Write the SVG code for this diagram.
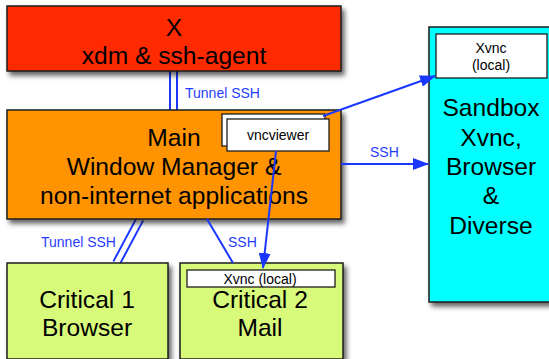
<svg xmlns="http://www.w3.org/2000/svg" width="549" height="359" viewBox="0 0 549 359">
  <style>
    .box { stroke: #1e1e1e; stroke-width: 1.5; filter: url(#shadow); }
    .panel { fill: #ffffff; stroke: #1e1e1e; stroke-width: 1.3; }
    .big { font-family: "Liberation Sans", Arial, sans-serif; font-size: 24.6px; fill: #000; text-anchor: middle; }
    .small { font-family: "Liberation Sans", Arial, sans-serif; font-size: 14px; fill: #000; text-anchor: middle; }
    .label { font-family: "Liberation Sans", Arial, sans-serif; font-size: 14px; fill: #1f3dff; }
    .wire { stroke: #1a37ff; stroke-width: 2; fill: none; }
    .tube-outer { stroke: #1a37ff; stroke-width: 9; fill: none; }
    .tube-inner { stroke: #ffffff; stroke-width: 5; fill: none; }
  </style>
  <defs>
    <filter id="shadow" x="-10%" y="-10%" width="130%" height="130%">
      <feDropShadow dx="3" dy="4" stdDeviation="2.5" flood-color="#000" flood-opacity="0.6"/>
    </filter>
    <marker id="arrow" viewBox="0 0 16 12" refX="15" refY="6" markerWidth="16" markerHeight="12" markerUnits="userSpaceOnUse" orient="auto">
      <path d="M0,0 L16,6 L0,12 Z" fill="#1a37ff"/>
    </marker>
  </defs>

  <rect width="549" height="359" fill="#ffffff"/>

  <!-- double-walled tunnels, drawn beneath the boxes -->
  <g id="connectors">
    <line class="tube-outer" x1="173.5" y1="71" x2="173.5" y2="110"/>
    <line class="tube-inner" x1="173.5" y1="71" x2="173.5" y2="110"/>
    <line class="tube-outer" x1="140" y1="219" x2="116.5" y2="263"/>
    <line class="tube-inner" x1="140" y1="219" x2="116.5" y2="263"/>
  </g>

  <g id="node-x">
    <rect class="box" x="7" y="6" width="334" height="65" fill="#ff2a00"/>
    <text class="big" x="174" y="36">X</text>
    <text class="big" x="174" y="64">xdm &amp; ssh-agent</text>
  </g>

  <g id="node-main">
    <rect class="box" x="7" y="110" width="334" height="109" fill="#ff9400"/>
    <text class="big" x="174" y="146">Main</text>
    <text class="big" x="174" y="175">Window Manager &amp;</text>
    <text class="big" x="174" y="204">non-internet applications</text>
  </g>

  <g id="node-vncviewer">
    <rect class="panel" x="222" y="114" width="103" height="32"/>
    <rect class="panel" x="227" y="119" width="102" height="32"/>
    <text class="small" x="278" y="140">vncviewer</text>
  </g>

  <g id="node-critical1">
    <rect class="box" x="7" y="263" width="161" height="96" fill="#d8fa7a"/>
    <text class="big" x="87" y="308">Critical 1</text>
    <text class="big" x="87" y="336">Browser</text>
  </g>

  <g id="node-critical2">
    <rect class="box" x="180" y="263" width="163" height="96" fill="#d8fa7a"/>
    <rect class="panel" x="187" y="270" width="148" height="17"/>
    <text class="small" x="260" y="284">Xvnc (local)</text>
    <text class="big" x="260" y="308">Critical 2</text>
    <text class="big" x="260" y="336">Mail</text>
  </g>

  <g id="node-sandbox">
    <rect class="box" x="429" y="27" width="126" height="275" fill="#00ffff"/>
    <rect class="panel" x="436" y="34" width="111" height="44"/>
    <text class="small" x="491" y="53">Xvnc</text>
    <text class="small" x="491" y="70">(local)</text>
    <text class="big" x="491" y="116">Sandbox</text>
    <text class="big" x="491" y="146">Xvnc,</text>
    <text class="big" x="491" y="175">Browser</text>
    <text class="big" x="491" y="204">&amp;</text>
    <text class="big" x="491" y="234">Diverse</text>
  </g>

  <g id="connector-lines">
    <text class="label" x="185" y="98">Tunnel SSH</text>
    <text class="label" x="41" y="247">Tunnel SSH</text>
    <line class="wire" x1="207" y1="219" x2="233" y2="263"/>
    <text class="label" x="228" y="247">SSH</text>
    <line class="wire" x1="276" y1="151" x2="263" y2="268" marker-end="url(#arrow)"/>
    <line class="wire" x1="323" y1="116" x2="435" y2="76" marker-end="url(#arrow)"/>
    <line class="wire" x1="341" y1="164" x2="428" y2="164" marker-end="url(#arrow)"/>
    <text class="label" x="370" y="157">SSH</text>
  </g>
</svg>
